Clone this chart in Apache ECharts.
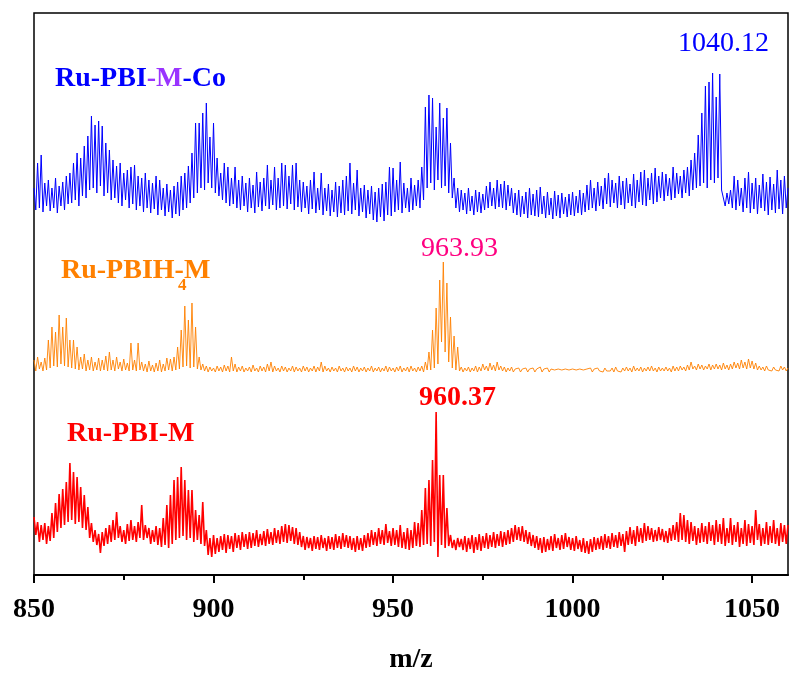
<!DOCTYPE html>
<html>
<head>
<meta charset="utf-8">
<script src="https://cdn.jsdelivr.net/npm/echarts@6/dist/echarts.min.js"></script>
<style>
  html, body { margin: 0; padding: 0; background: #fff; }
  #chart { width: 789px; height: 673px; }
</style>
</head>
<body>
<div id="chart"></div>
<script>
// m/z grid: 850 .. 1060, one reading every 0.5
const mzStart = 850
const mzStep = 0.5
const majorTicks = [850, 900, 950, 1000, 1050]
const minorTicks = [875, 925, 975, 1025]

// Ru-PBI-M-Co (blue), intensity above its own baseline
const coIntensity = [
  30,8,55,10,63,6,35,12,38,7,30,10,40,5,32,12,36,8,42,14,
  45,15,55,18,65,12,60,22,72,20,82,28,102,30,93,25,97,32,92,22,
  75,25,68,18,58,20,52,15,55,12,45,18,48,10,51,14,53,8,42,12,
  40,6,45,10,38,5,35,9,42,3,38,8,30,2,34,6,28,0,32,4,
  36,2,42,8,45,10,52,15,65,20,95,25,95,30,105,28,115,35,81,30,
  95,25,60,22,45,18,55,15,51,12,40,14,51,10,38,8,42,12,35,6,
  40,10,33,5,46,11,36,7,40,12,53,9,38,13,51,8,40,10,55,12,
  53,9,42,14,53,8,55,11,38,6,36,10,32,4,38,9,46,5,30,8,
  45,3,30,7,34,2,28,6,36,1,32,5,38,3,42,7,55,4,35,8,
  48,2,30,6,33,0,28,4,32,-2,26,-4,30,1,34,-3,36,3,51,2,
  50,6,38,8,56,5,35,10,30,6,40,8,33,12,38,10,51,18,111,30,
  123,35,120,28,91,38,115,30,100,32,110,25,75,20,40,10,30,6,28,8,
  25,4,30,7,22,3,28,6,26,5,24,8,32,10,36,12,30,9,38,11,
  34,10,37,8,33,12,30,5,25,3,28,1,22,4,26,0,30,3,24,2,
  28,1,31,4,22,0,26,3,20,-1,27,2,23,0,25,4,21,1,24,3,
  26,2,22,5,28,3,25,6,33,8,38,10,30,7,36,12,32,9,40,14,
  45,11,38,15,35,10,42,13,37,9,40,15,34,12,44,10,38,16,46,13,
  48,12,40,18,45,14,50,16,42,20,46,17,44,22,40,18,51,20,45,24,
  42,20,48,25,51,22,58,28,65,30,83,32,105,35,132,30,136,38,145,35,
  121,40,144,28,30,12,25,14,28,10,42,8,38,12,30,6,40,10,46,5,
  35,9,40,4,33,10,44,7,36,3,41,8,34,5,48,9,38,4,42,10,
  30
]

// Ru-PBIH4-M (orange)
const h4Intensity = [
  12,1,15,3,10,1,14,2,32,4,45,6,40,5,57,8,45,6,54,5,
  32,4,32,3,25,2,15,3,18,1,12,2,15,1,10,2,14,1,12,2,
  16,1,20,2,12,1,15,3,10,1,13,2,9,1,29,2,12,1,29,2,
  10,1,8,0,11,1,7,0,9,1,12,0,8,1,14,2,13,1,15,2,
  25,3,42,5,66,6,52,4,69,5,45,3,15,2,8,1,6,0,5,1,
  4,0,6,1,5,0,7,1,6,0,15,1,8,0,5,1,6,0,4,1,
  5,0,7,1,4,0,6,1,5,0,8,1,10,0,6,1,4,0,6,1,
  5,0,4,1,6,0,5,1,4,0,6,1,5,0,4,1,6,0,5,1,
  10,0,6,1,4,0,5,1,4,0,6,1,4,0,5,1,4,0,6,1,
  5,0,4,1,5,0,4,1,6,0,4,1,5,0,4,1,6,0,5,1,
  4,0,5,1,6,0,4,1,5,0,6,1,4,0,5,1,6,0,10,2,
  20,2,42,4,64,8,92,30,110,20,89,10,55,4,36,2,25,1,5,0,
  4,1,5,0,4,1,6,0,5,1,8,2,6,1,9,2,7,1,10,2,
  6,1,5,0,4,1,5,0,3,1,4,0,3,1,4,0,3,1,4,0,
  3,1,5,0,3,1,4,0,3,1,2,0,3,1,2,0,3,1,2,0,
  3,1,2,0,3,1,2,0,3,1,4,0,3,1,4,1,3,0,4,1,
  3,1,4,0,5,1,3,0,4,1,5,1,4,0,6,1,4,1,5,0,
  4,1,5,1,6,1,4,0,5,1,4,1,5,1,4,0,6,1,5,1,
  6,2,5,1,7,2,10,3,6,2,8,3,7,2,6,3,8,2,7,3,
  8,3,7,2,9,3,7,2,8,3,10,4,9,3,12,4,10,3,13,4,
  11,3,9,2,6,2,5,1,6,2,4,1,5,2,4,1,6,2,5,1,
  4
]

// Ru-PBI-M (red)
const mIntensity = [
  33,15,28,8,25,10,27,6,24,9,37,12,47,18,56,22,61,25,68,28,
  87,30,78,26,73,28,63,22,55,20,43,12,27,8,20,5,16,-3,18,4,
  22,6,25,8,30,10,38,12,24,8,20,6,26,9,30,10,24,8,28,12,
  45,10,25,12,22,6,20,8,24,5,22,3,32,5,45,2,55,6,70,10,
  73,12,83,14,70,10,60,12,60,8,40,10,35,6,48,4,20,-5,12,-7,
  15,-4,12,-2,14,0,16,-3,15,1,14,-2,17,2,15,0,18,3,16,1,
  18,2,17,4,20,3,16,5,19,4,21,6,18,5,22,7,20,6,24,8,
  26,7,25,9,23,6,22,5,18,3,14,0,13,2,12,-1,14,1,13,0,
  15,2,12,-1,14,1,13,0,16,2,14,1,17,3,15,2,14,0,12,-2,
  14,0,12,-1,15,2,17,3,20,5,18,4,22,6,20,5,26,7,19,4,
  22,5,20,3,25,2,18,1,22,0,20,2,28,4,27,3,40,5,62,6,
  70,4,90,8,138,-7,75,5,75,2,42,4,15,2,10,0,12,3,11,0,
  14,-2,12,1,15,-3,13,0,16,-1,14,2,17,1,15,3,18,2,16,4,
  19,3,18,5,20,6,22,8,25,10,23,9,24,8,20,6,18,4,15,2,
  14,0,12,-3,13,-2,11,0,14,-1,16,2,12,0,15,1,17,3,13,0,
  12,-1,14,1,10,-2,12,-3,9,-4,11,-2,13,0,12,1,14,0,16,2,
  14,1,17,3,15,2,18,4,16,-2,19,5,23,6,20,4,24,8,22,7,
  27,9,24,10,22,8,20,9,23,10,21,8,19,7,22,9,25,10,28,8,
  37,10,35,8,30,6,28,9,24,5,22,7,27,8,24,6,28,9,25,5,
  30,8,26,6,32,4,22,7,32,5,25,8,28,3,22,6,30,4,26,7,
  24,5,40,10,26,4,22,6,28,5,24,7,30,6,22,4,27,8,25,6,
  25
]

// vertical offset of each trace (stacked spectra)
const coOffset = 357
const h4Offset = 203
const mOffset = 25

const serif = '"Liberation Serif", "Times New Roman", serif'

function toPairs(arr, offset) {
  return arr.map((v, i) => [mzStart + i * mzStep, v + offset])
}

const chart = echarts.init(document.getElementById('chart'), null, { renderer: 'canvas' })

const option = {
  animation: false,
  backgroundColor: '#fff',
  grid: {
    left: 34, right: 1, top: 13, bottom: 98,
    containLabel: false, outerBoundsMode: 'none',
    show: true, borderColor: '#000', borderWidth: 1.5
  },
  xAxis: [{
    type: 'value', min: 850, max: 1060, interval: 50,
    name: 'm/z', nameLocation: 'middle', nameGap: 71,
    nameTextStyle: { fontFamily: serif, fontWeight: 'bold', fontSize: 28, color: '#000' },
    axisLine: { show: true, onZero: false, lineStyle: { color: '#000', width: 2 } },
    axisTick: { show: true, inside: false, length: 8, customValues: majorTicks, lineStyle: { color: '#000', width: 2 } },
    axisLabel: {
      customValues: majorTicks, margin: 21, formatter: v => String(v),
      fontFamily: serif, fontWeight: 'bold', fontSize: 28, color: '#000'
    },
    splitLine: { show: false }
  }, {
    type: 'value', min: 850, max: 1060, position: 'bottom',
    axisLine: { show: false, onZero: false },
    axisTick: { show: true, inside: false, length: 5, customValues: minorTicks, lineStyle: { color: '#000', width: 2 } },
    axisLabel: { show: false },
    splitLine: { show: false }
  }],
  yAxis: {
    type: 'value', min: 0, max: 562,
    axisLine: { show: false }, axisTick: { show: false },
    axisLabel: { show: false }, splitLine: { show: false }
  },
  series: [
    {
      name: 'Ru-PBI-M-Co', type: 'line', symbol: 'none', silent: true,
      data: toPairs(coIntensity, coOffset),
      lineStyle: { color: '#0000FF', width: 1 }
    },
    {
      name: 'Ru-PBIH4-M', type: 'line', symbol: 'none', silent: true,
      data: toPairs(h4Intensity, h4Offset),
      lineStyle: { color: '#FF8000', width: 0.9 }
    },
    {
      name: 'Ru-PBI-M', type: 'line', symbol: 'none', silent: true,
      data: toPairs(mIntensity, mOffset),
      lineStyle: { color: '#FF0000', width: 1.6 }
    }
  ],
  graphic: [
    {
      type: 'text', left: 55, top: 65,
      style: {
        text: '{b|Ru-PBI}{p|-M}{b|-Co}',
        rich: {
          b: { fontFamily: serif, fontWeight: 'bold', fontSize: 28, fill: '#0000FF' },
          p: { fontFamily: serif, fontWeight: 'bold', fontSize: 28, fill: '#9933FF' }
        }
      }
    },
    {
      type: 'text', left: 61, top: 257,
      style: { text: 'Ru-PBIH-M', font: 'bold 28px ' + serif, fill: '#FF8000' }
    },
    {
      type: 'text', left: 178, top: 277,
      style: { text: '4', font: 'bold 17px ' + serif, fill: '#FF8000' }
    },
    {
      type: 'text', left: 67, top: 420,
      style: { text: 'Ru-PBI-M', font: 'bold 28px ' + serif, fill: '#FF0000' }
    },
    {
      type: 'text', left: 678, top: 30,
      style: { text: '1040.12', font: '28px ' + serif, fill: '#0000FF' }
    },
    {
      type: 'text', left: 421, top: 235,
      style: { text: '963.93', font: '28px ' + serif, fill: '#FF0080' }
    },
    {
      type: 'text', left: 419, top: 384,
      style: { text: '960.37', font: 'bold 28px ' + serif, fill: '#FF0000' }
    }
  ]
}

chart.setOption(option)
</script>
</body>
</html>
